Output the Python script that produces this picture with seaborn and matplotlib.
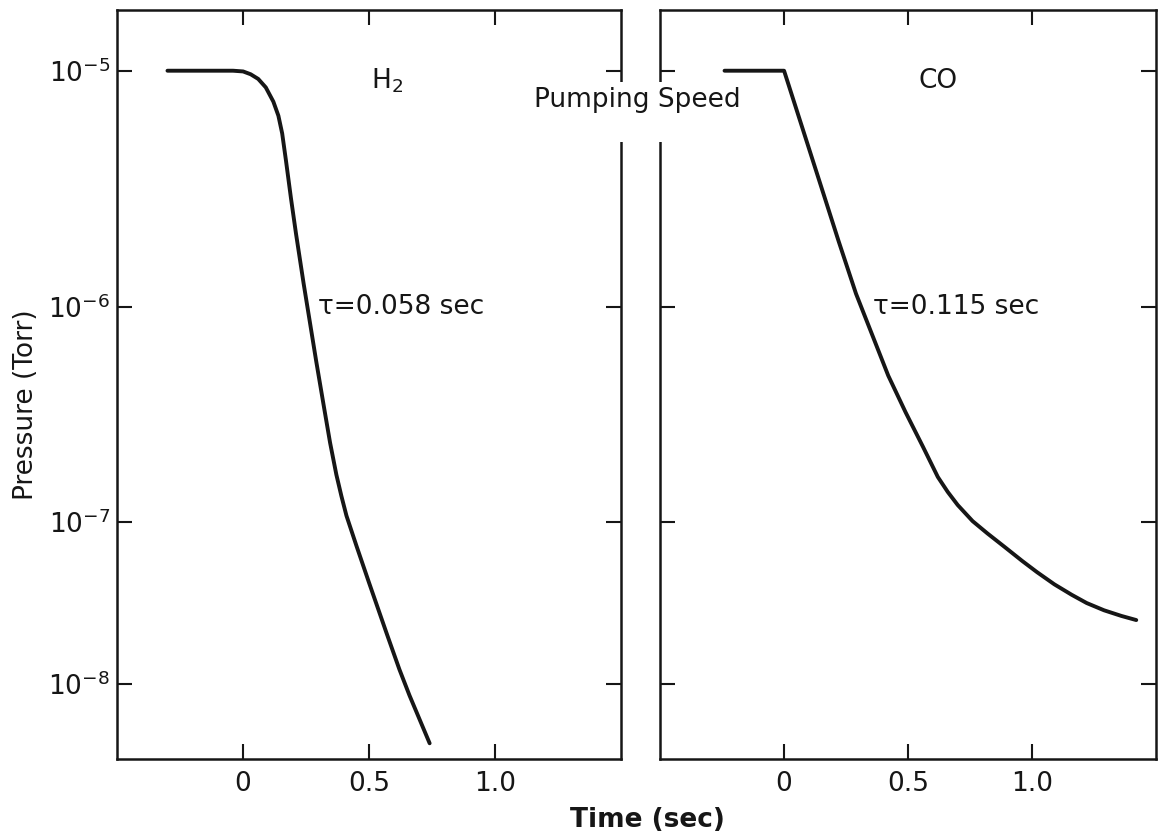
import numpy as np
import matplotlib
matplotlib.use("Agg")
import matplotlib.pyplot as plt
from matplotlib.patches import Rectangle
from matplotlib.ticker import NullLocator
import seaborn as sns

# --- data (time in sec, pressure in Torr) ---
h2_time = [-0.30, -0.04, 0.00, 0.03, 0.06, 0.09, 0.12, 0.14, 0.155, 0.17,
           0.19, 0.21, 0.24, 0.265, 0.29, 0.32, 0.345, 0.37, 0.39, 0.41,
           0.45, 0.50, 0.57, 0.62, 0.66, 0.74]
h2_pressure = [1.0e-5, 1.0e-5, 9.93e-6, 9.66e-6, 9.23e-6, 8.5e-6, 7.4e-6,
               6.45e-6, 5.43e-6, 4.17e-6, 2.88e-6, 2.04e-6, 1.26e-6, 8.5e-7,
               5.6e-7, 3.47e-7, 2.34e-7, 1.66e-7, 1.32e-7, 1.07e-7, 7.1e-8,
               4.2e-8, 2.04e-8, 1.23e-8, 8.5e-9, 4.3e-9]

co_time = [-0.24, 0.0, 0.09, 0.16, 0.22, 0.29, 0.36, 0.42, 0.49, 0.56, 0.62,
           0.66, 0.70, 0.76, 0.82, 0.89, 0.96, 1.02, 1.09, 1.16, 1.22, 1.29,
           1.36, 1.42]
co_pressure = [1.0e-5, 1.0e-5, 5.07e-6, 2.99e-6, 1.9e-6, 1.14e-6, 7.2e-7,
               4.8e-7, 3.24e-7, 2.24e-7, 1.62e-7, 1.38e-7, 1.2e-7, 1.01e-7,
               8.5e-8, 7.0e-8, 5.75e-8, 4.9e-8, 4.12e-8, 3.55e-8, 3.16e-8,
               2.85e-8, 2.63e-8, 2.48e-8]

panels = [("H$_2$", "τ=0.058 sec", h2_time, h2_pressure),
          ("CO", "τ=0.115 sec", co_time, co_pressure)]

y_ticks = [1e-8, 1e-7, 1e-6, 1e-5]
y_ticklabels = [r"$10^{-8}$", r"$10^{-7}$", r"$10^{-6}$", r"$10^{-5}$"]
x_ticks = [0, 0.5, 1.0]
x_ticklabels = ["0", "0.5", "1.0"]

# --- the original graph paper has unevenly spaced decades; mimic it ---
LOG_KNOTS = np.array([-10, -9, -8, -7, -6, -5, -4, -3], dtype=float)
POS_KNOTS = np.array([-324, -162, 0, 162, 377, 613.5, 850, 1086.5])


def fwd(y):
    y = np.clip(np.asarray(y, dtype=float), 1e-30, None)
    return np.interp(np.log10(y), LOG_KNOTS, POS_KNOTS)


def inv(p):
    return 10.0 ** np.interp(np.asarray(p, dtype=float), POS_KNOTS, LOG_KNOTS)


sns.set_theme(style="ticks")
plt.rcParams["font.family"] = ["DejaVu Sans"]
plt.rcParams["mathtext.fontset"] = "dejavusans"
INK = "#161616"
FS = 19

fig = plt.figure(figsize=(11.59, 8.38), dpi=100)
fig.patch.set_facecolor("white")
ax1 = fig.add_axes([0.101, 0.0943, 0.435, 0.894])
ax2 = fig.add_axes([0.5695, 0.0943, 0.428, 0.894])

for ax, (gas, tau, t, p), gx in zip([ax1, ax2], panels, [0.536, 0.56]):
    sns.lineplot(x=t, y=p, ax=ax, color=INK, linewidth=2.8,
                 estimator=None, sort=False, solid_capstyle="round",
                 solid_joinstyle="round")
    ax.set_yscale("function", functions=(fwd, inv))
    ax.set_ylim(3.44e-9, 1.81e-5)
    ax.set_xlim(-0.5, 1.5)
    ax.set_yticks(y_ticks)
    ax.set_xticks(x_ticks)
    ax.set_xticklabels(x_ticklabels)
    ax.yaxis.set_minor_locator(NullLocator())
    ax.xaxis.set_minor_locator(NullLocator())
    ax.set_xlabel("")
    ax.set_ylabel("")
    ax.set_facecolor("white")
    for s in ax.spines.values():
        s.set_visible(True)
        s.set_linewidth(1.8)
        s.set_color(INK)
    ax.tick_params(which="major", direction="in", length=11, width=1.5,
                   color=INK, top=True, right=True, left=True, bottom=True,
                   labelsize=FS, labelcolor=INK)
    ax.tick_params(axis="x", pad=9)
    ax.tick_params(axis="y", pad=5)
    ax.text(gx, 0.905, gas, transform=ax.transAxes, ha="center",
            va="center", fontsize=FS, color=INK)

ax1.set_yticklabels(y_ticklabels)
ax2.tick_params(labelleft=False)
ax1.text(0.399, 0.603, panels[0][1], transform=ax1.transAxes, ha="left",
         va="center", fontsize=FS, color=INK)
ax2.text(0.429, 0.603, panels[1][1], transform=ax2.transAxes, ha="left",
         va="center", fontsize=FS, color=INK)

# break in the inner spines where the "Pumping Speed" caption passes
fig.add_artist(Rectangle((0.5246, 0.8305), 0.056, 0.0716,
                         transform=fig.transFigure, facecolor="white",
                         edgecolor="none", zorder=1))
fig.text(0.55, 0.881, "Pumping Speed", ha="center", va="center",
         fontsize=FS, color=INK, zorder=3)

fig.text(0.559, 0.022, "Time (sec)", ha="center", va="center",
         fontsize=FS, color=INK, fontweight="bold")
fig.text(0.0224, 0.517, "Pressure (Torr)", ha="center", va="center",
         rotation=90, fontsize=FS, color=INK)

fig.savefig("out.png", dpi=100, facecolor="white")
